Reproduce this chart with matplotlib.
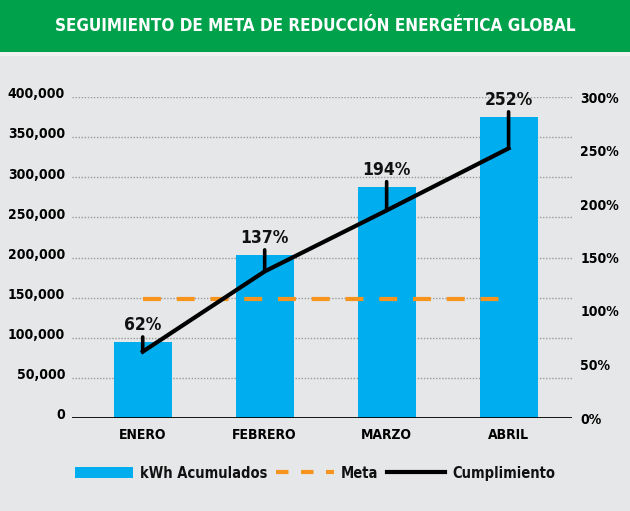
import matplotlib
matplotlib.use("Agg")
import matplotlib.pyplot as plt
import matplotlib.transforms as mtransforms
from matplotlib import font_manager as fm
from matplotlib.patches import Rectangle, Patch
from matplotlib.lines import Line2D

# data
meses = ["ENERO", "FEBRERO", "MARZO", "ABRIL"]
kwh_acumulados = [94500, 203000, 288000, 375000]
cumplimiento = [62, 137, 194, 252]
meta = 148000
kwh_ticks = list(range(0, 400001, 50000))
pct_ticks = list(range(0, 301, 50))

titulo = "SEGUIMIENTO DE META DE REDUCCIÓN ENERGÉTICA GLOBAL"

BG = "#e6e7e8"
VERDE = "#00a14b"
AZUL = "#00aeef"
NARANJA = "#f7941d"

# a narrow/condensed bold face if the box has one, else plain Liberation Sans
condensed = [f for f in fm.fontManager.ttflist
             if ("Narrow" in f.name or "Condensed" in f.name or f.stretch in ("condensed", "semi-condensed"))]
if condensed:
    fam = condensed[0].name
    stretch = "condensed"
else:
    fam = "Liberation Sans"
    stretch = "normal"

plt.rcParams.update({
    "font.family": [fam, "Liberation Sans", "DejaVu Sans"],
    "font.stretch": stretch,
    "font.weight": "bold",
    "text.color": "#111111",
})

fig = plt.figure(figsize=(6.30, 5.11), dpi=100)
fig.patch.set_facecolor(BG)
renderer = fig.canvas.get_renderer()

# green title band
fig.patches.append(Rectangle((0, 1 - 52 / 511), 1, 52 / 511, transform=fig.transFigure,
                             facecolor=VERDE, edgecolor="none", zorder=0))
fig.patches.append(Rectangle((0, 1 - 56 / 511), 1, 4 / 511, transform=fig.transFigure,
                             facecolor="#f1f1f1", edgecolor="none", zorder=0))
title = fig.text(0.5, 1 - 26 / 511, titulo, color="white", fontsize=17, fontweight="bold",
                 ha="center", va="center")
# shrink the title until it is about as wide as in the reference
w = title.get_window_extent(renderer).width
title.set_fontsize(min(17, 17 * 522 / w))

ax = fig.add_axes([72 / 630, 1 - 418 / 511, 500 / 630, (418 - 97) / 511])
ax.set_facecolor("none")
x = list(range(len(meses)))

ax.bar(x, kwh_acumulados, width=0.475, color=AZUL, zorder=2)
for v in kwh_ticks[1:]:
    ax.axhline(v, color="#9a9a9a", lw=1, ls=(0, (1, 1.2)), zorder=1)
ax.axhline(0, color="black", lw=2, zorder=3)
ax.plot(x, [meta] * len(x), color=NARANJA, lw=3, dashes=(4.3, 3.8), zorder=4)

ax.set_xlim(-0.58, 3.52)
ax.set_ylim(0, 400000)
ax.set_yticks(kwh_ticks)
ax.set_yticklabels([f"{v:,}" for v in kwh_ticks])
ax.set_xticks(x)
ax.set_xticklabels(meses)
ax.tick_params(axis="both", length=0, labelsize=10)
ax.tick_params(axis="y", pad=5)
ax.tick_params(axis="x", pad=7)
for s in ax.spines.values():
    s.set_visible(False)
for t in ax.get_yticklabels():
    t.set_transform(t.get_transform() + mtransforms.ScaledTranslation(0, 3 / 72, fig.dpi_scale_trans))

ax2 = ax.twinx()
ax2.set_ylim(0, 300)
ax2.set_yticks(pct_ticks)
ax2.set_yticklabels([f"{p}%" for p in pct_ticks])
ax2.tick_params(axis="y", length=0, labelsize=10, pad=6)
for s in ax2.spines.values():
    s.set_visible(False)

ax2.plot(x, cumplimiento, color="black", lw=3, solid_joinstyle="miter", zorder=5)

label_trans = mtransforms.offset_copy(ax.transData, fig=fig, x=0, y=12, units="dots")
for i, (p, v) in enumerate(zip(cumplimiento, kwh_acumulados)):
    ax2.annotate(f"{p}%", xy=(i, p), xycoords="data", xytext=(i, v), textcoords=label_trans,
                 ha="center", va="baseline", fontsize=12.5, fontweight="bold",
                 annotation_clip=False,
                 arrowprops=dict(arrowstyle="-", lw=2.6, color="black",
                                 shrinkA=0, shrinkB=0, relpos=(0.5, 0)))

handles = [
    Patch(facecolor=AZUL, edgecolor="none", label="kWh Acumulados"),
    Line2D([], [], color=NARANJA, lw=3, dashes=(3, 3), label="Meta"),
    Line2D([], [], color="black", lw=3, label="Cumplimiento"),
]
fig.legend(handles=handles, loc="center", bbox_to_anchor=(0.5, 1 - 473 / 511), ncol=3,
           frameon=False, fontsize=10.5, handlelength=4, handletextpad=0.45,
           columnspacing=0.6)

fig.savefig("out.png", dpi=100, facecolor=BG)
